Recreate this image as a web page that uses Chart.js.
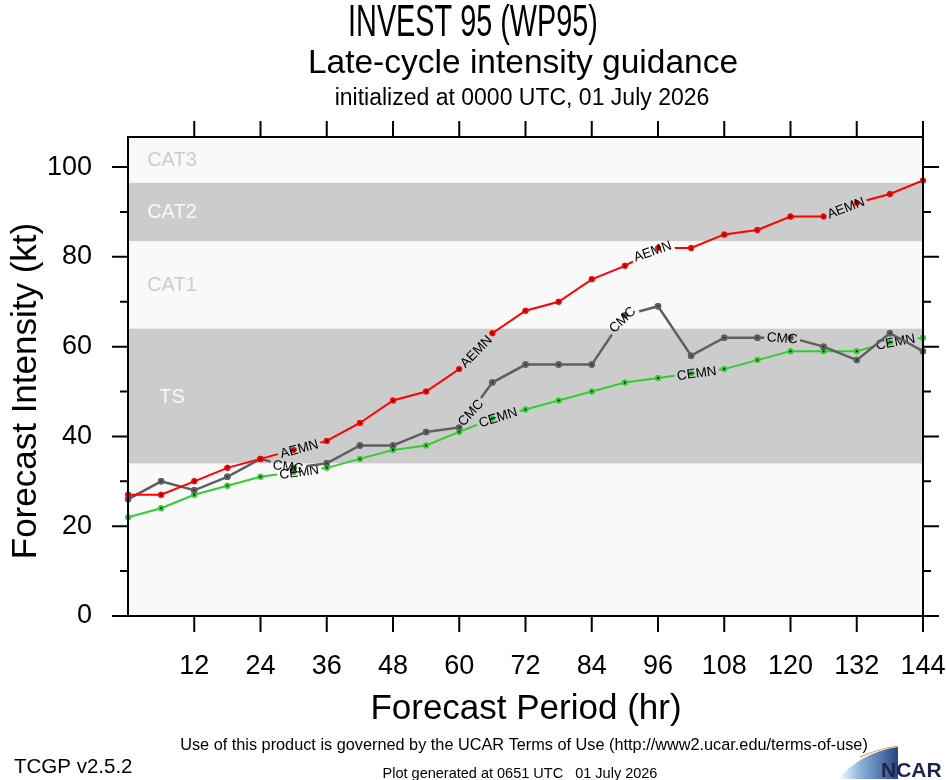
<!DOCTYPE html>
<html lang="en">
<head>
    <meta charset="UTF-8">
    <title>INVEST 95 (WP95) Late-cycle intensity guidance</title>
    <style>
        * {
            box-sizing: border-box;
        }

        body {
            margin: 0;
            background: #ffffff;
            overflow: hidden;
        }

        .chart-container {
            width: 946px;
            height: 780px;
        }
    </style>
</head>
<body>
<div class="chart-container">
    <canvas id="intensityChart" width="946" height="780"></canvas>
</div>

<script src="https://cdn.jsdelivr.net/npm/chart.js"></script>
<script>
    // Forecast hours and model intensities (kt)
    const hours = [0, 6, 12, 18, 24, 30, 36, 42, 48, 54, 60, 66, 72, 78, 84, 90, 96, 102, 108, 114, 120, 126, 132, 138, 144];
    const aemn = [27, 27, 30, 33, 35, 37, 39, 43, 48, 50, 55, 63, 68, 70, 75, 78, 82, 82, 85, 86, 89, 89, 92, 94, 97];
    const cmc = [26, 30, 28, 31, 35, 33, 34, 38, 38, 41, 42, 52, 56, 56, 56, 67, 69, 58, 62, 62, 62, 60, 57, 63, 59];
    const cemn = [22, 24, 27, 29, 31, 32, 33, 35, 37, 38, 41, 44, 46, 48, 50, 52, 53, 54, 55, 57, 59, 59, 59, 61, 62];

    // Where the model name sits along each line (forecast hour)
    const aemnLabelAt = [31, 63, 95, 130];
    const cmcLabelAt = [29, 62, 89.5, 118.5];
    const cemnLabelAt = [31, 67, 103, 139];

    // Intensity categories (kt)
    const bandNames = ['TS', 'CAT1', 'CAT2', 'CAT3'];
    const bandLow = [34, 64, 83.5, 96.5];
    const bandHigh = [64, 83.5, 96.5, 113];

    // Axis ticks
    const xTicks = [12, 24, 36, 48, 60, 72, 84, 96, 108, 120, 132, 144];
    const yTicks = [0, 20, 40, 60, 80, 100];
    const yMinorTicks = [10, 30, 50, 70, 90];

    const FONT = "'Liberation Sans', Helvetica, Arial, sans-serif";

    function toXY(values) {
        return hours.map((h, i) => ({ x: h, y: values[i] }));
    }

    // pixel position on a drawn line at a (fractional) forecast hour
    function pointAt(meta, h) {
        let i = 0;
        while (i < hours.length - 2 && h > hours[i + 1]) i++;
        const t = (h - hours[i]) / (hours[i + 1] - hours[i]);
        const a = meta.data[i], b = meta.data[i + 1];
        return { x: a.x + (b.x - a.x) * t, y: a.y + (b.y - a.y) * t };
    }

    function labelBoxes(chart, index) {
        const ds = chart.data.datasets[index];
        const meta = chart.getDatasetMeta(index);
        const ctx = chart.ctx;
        ctx.save();
        ctx.font = '13.5px ' + FONT;
        const w = ctx.measureText(ds.label).width;
        ctx.restore();
        return ds.labelAt.map(h => {
            const c = pointAt(meta, h);
            const p1 = pointAt(meta, Math.max(0, h - 3.5));
            const p2 = pointAt(meta, Math.min(144, h + 3.5));
            return { x: c.x, y: c.y, w: w + 5, h: 14, angle: Math.atan2(p2.y - p1.y, p2.x - p1.x) };
        });
    }

    // cut the line where its name is written, then write the name
    const lineLabels = {
        id: 'lineLabels',
        beforeDatasetDraw(chart, args) {
            const ctx = chart.ctx;
            const boxes = labelBoxes(chart, args.index);
            ctx.save();
            ctx.beginPath();
            ctx.rect(0, 0, chart.width, chart.height);
            boxes.forEach(b => {
                const c = Math.cos(b.angle), s = Math.sin(b.angle);
                const hw = b.w / 2, hh = b.h / 2;
                [[-hw, -hh], [hw, -hh], [hw, hh], [-hw, hh]].forEach(([px, py], i) => {
                    const X = b.x + px * c - py * s;
                    const Y = b.y + px * s + py * c;
                    if (i === 0) ctx.moveTo(X, Y); else ctx.lineTo(X, Y);
                });
                ctx.closePath();
            });
            ctx.clip('evenodd');
        },
        afterDatasetDraw(chart, args) {
            const ctx = chart.ctx;
            ctx.restore();
            args.meta.data.forEach(p => p.draw(ctx));
            const label = chart.data.datasets[args.index].label;
            ctx.save();
            ctx.font = '13.5px ' + FONT;
            ctx.fillStyle = '#000';
            ctx.textAlign = 'center';
            ctx.textBaseline = 'middle';
            labelBoxes(chart, args.index).forEach(b => {
                ctx.save();
                ctx.translate(b.x, b.y);
                ctx.rotate(b.angle);
                ctx.fillText(label, 0, 1);
                ctx.restore();
            });
            ctx.restore();
        }
    };

    // category shading behind the lines
    const bands = {
        id: 'bands',
        beforeDatasetsDraw(chart) {
            const { ctx, chartArea: area, scales: { y } } = chart;
            ctx.save();
            ctx.fillStyle = '#f9f9f9';
            ctx.fillRect(area.left, area.top, area.width, area.height);
            bandNames.forEach((name, i) => {
                const hi = Math.min(bandHigh[i], y.max);
                const top = y.getPixelForValue(hi);
                const bottom = y.getPixelForValue(bandLow[i]);
                const dark = i % 2 === 0;
                if (dark) {
                    ctx.fillStyle = '#cccccc';
                    ctx.fillRect(area.left, top, area.width, bottom - top);
                }
                ctx.fillStyle = dark ? '#f9f9f9' : '#cccccc';
                ctx.font = '20px ' + FONT;
                ctx.textAlign = 'center';
                ctx.textBaseline = 'middle';
                ctx.fillText(name, area.left + 44, (top + bottom) / 2 + 1);
            });
            ctx.restore();
        }
    };

    // frame and tick marks on all four sides
    const frame = {
        id: 'frame',
        afterDatasetsDraw(chart) {
            const { ctx, chartArea: a, scales: { x, y } } = chart;
            ctx.save();
            ctx.strokeStyle = '#000';
            ctx.lineWidth = 2;
            ctx.strokeRect(a.left, a.top, a.width, a.height);
            ctx.beginPath();
            yTicks.concat(yMinorTicks).forEach(v => {
                const len = yTicks.includes(v) ? 16 : 8;
                const py = y.getPixelForValue(v);
                ctx.moveTo(a.left - len, py); ctx.lineTo(a.left, py);
                ctx.moveTo(a.right, py); ctx.lineTo(a.right + len, py);
            });
            xTicks.forEach(v => {
                const px = x.getPixelForValue(v);
                ctx.moveTo(px, a.bottom); ctx.lineTo(px, a.bottom + 16);
                ctx.moveTo(px, a.top - 16); ctx.lineTo(px, a.top);
            });
            ctx.stroke();
            ctx.restore();
        }
    };

    function text(ctx, str, x, y, size, align, color, scaleX) {
        ctx.save();
        ctx.font = size + 'px ' + FONT;
        ctx.fillStyle = color || '#000';
        ctx.textAlign = align || 'center';
        ctx.textBaseline = 'alphabetic';
        ctx.translate(x, y);
        ctx.scale(scaleX || 1, 1);
        ctx.fillText(str, 0, 0);
        ctx.restore();
    }

    // titles, axis names, footer and logo
    const annotations = {
        id: 'annotations',
        afterDraw(chart) {
            const ctx = chart.ctx;
            text(ctx, 'INVEST 95 (WP95)', 473, 36, 44, 'center', '#000', 0.655);
            text(ctx, 'Late-cycle intensity guidance', 523, 73, 33.5);
            text(ctx, 'initialized at 0000 UTC, 01 July 2026', 522, 105, 23);

            ctx.save();
            ctx.translate(36, 391);
            ctx.rotate(-Math.PI / 2);
            text(ctx, 'Forecast Intensity (kt)', 0, 0, 35);
            ctx.restore();
            text(ctx, 'Forecast Period (hr)', 526, 719, 35);

            text(ctx, 'Use of this product is governed by the UCAR Terms of Use (http://www2.ucar.edu/terms-of-use)', 524, 750, 16.3);
            text(ctx, 'TCGP v2.5.2', 14, 773, 20.5, 'left');
            text(ctx, 'Plot generated at 0651 UTC   01 July 2026', 520, 778, 14.5);

            // NCAR logo
            ctx.save();
            const grad = ctx.createLinearGradient(838, 0, 900, 0);
            grad.addColorStop(0, '#ffffff');
            grad.addColorStop(0.35, '#8fb4dc');
            grad.addColorStop(1, '#1f3f80');
            ctx.fillStyle = grad;
            ctx.beginPath();
            ctx.moveTo(838, 779);
            ctx.quadraticCurveTo(862, 752, 898, 747);
            ctx.lineTo(898, 779);
            ctx.closePath();
            ctx.fill();
            ctx.strokeStyle = '#f0a050';
            ctx.lineWidth = 1.2;
            ctx.beginPath();
            ctx.moveTo(860, 757);
            ctx.quadraticCurveTo(878, 749, 898, 746);
            ctx.stroke();
            ctx.restore();
            ctx.save();
            ctx.font = 'bold 21px ' + FONT;
            ctx.fillStyle = '#1b2550';
            ctx.textAlign = 'left';
            ctx.fillText('NCAR', 881, 777);
            ctx.restore();
        }
    };

    const ctx = document.getElementById('intensityChart').getContext('2d');
    const intensityChart = new Chart(ctx, {
        type: 'line',
        data: {
            datasets: [{
                label: 'AEMN',
                data: toXY(aemn),
                labelAt: aemnLabelAt,
                borderColor: '#ff0000',
                borderWidth: 2
            }, {
                label: 'CMC',
                data: toXY(cmc),
                labelAt: cmcLabelAt,
                borderColor: '#5f5f5f',
                borderWidth: 2.5
            }, {
                label: 'CEMN',
                data: toXY(cemn),
                labelAt: cemnLabelAt,
                borderColor: '#33cc33',
                borderWidth: 2
            }]
        },
        options: {
            responsive: false,
            animation: false,
            devicePixelRatio: 1,
            layout: {
                padding: { left: 0, right: 23, top: 137, bottom: 0 }
            },
            elements: {
                line: { tension: 0 },
                point: { radius: 2, backgroundColor: '#000', borderWidth: 0 }
            },
            plugins: {
                legend: { display: false },
                tooltip: { enabled: false }
            },
            scales: {
                x: {
                    type: 'linear',
                    min: 0,
                    max: 144,
                    afterBuildTicks: scale => { scale.ticks = xTicks.map(v => ({ value: v })); },
                    afterFit: scale => {
                        scale.height = 164;
                        scale.paddingLeft = 0;
                        scale.paddingRight = 0;
                    },
                    grid: { display: false, drawTicks: false },
                    border: { display: false },
                    ticks: {
                        font: { family: FONT, size: 27 },
                        color: '#000',
                        padding: 34,
                        maxRotation: 0,
                        autoSkip: false
                    }
                },
                y: {
                    min: 0,
                    max: 106.7,
                    afterBuildTicks: scale => { scale.ticks = yTicks.map(v => ({ value: v })); },
                    afterFit: scale => {
                        scale.width = 128;
                        scale.paddingTop = 0;
                        scale.paddingBottom = 0;
                    },
                    grid: { display: false, drawTicks: false },
                    border: { display: false },
                    ticks: {
                        font: { family: FONT, size: 27 },
                        color: '#000',
                        padding: 36
                    }
                }
            }
        },
        plugins: [bands, lineLabels, frame, annotations]
    });
</script>
</body>
</html>
